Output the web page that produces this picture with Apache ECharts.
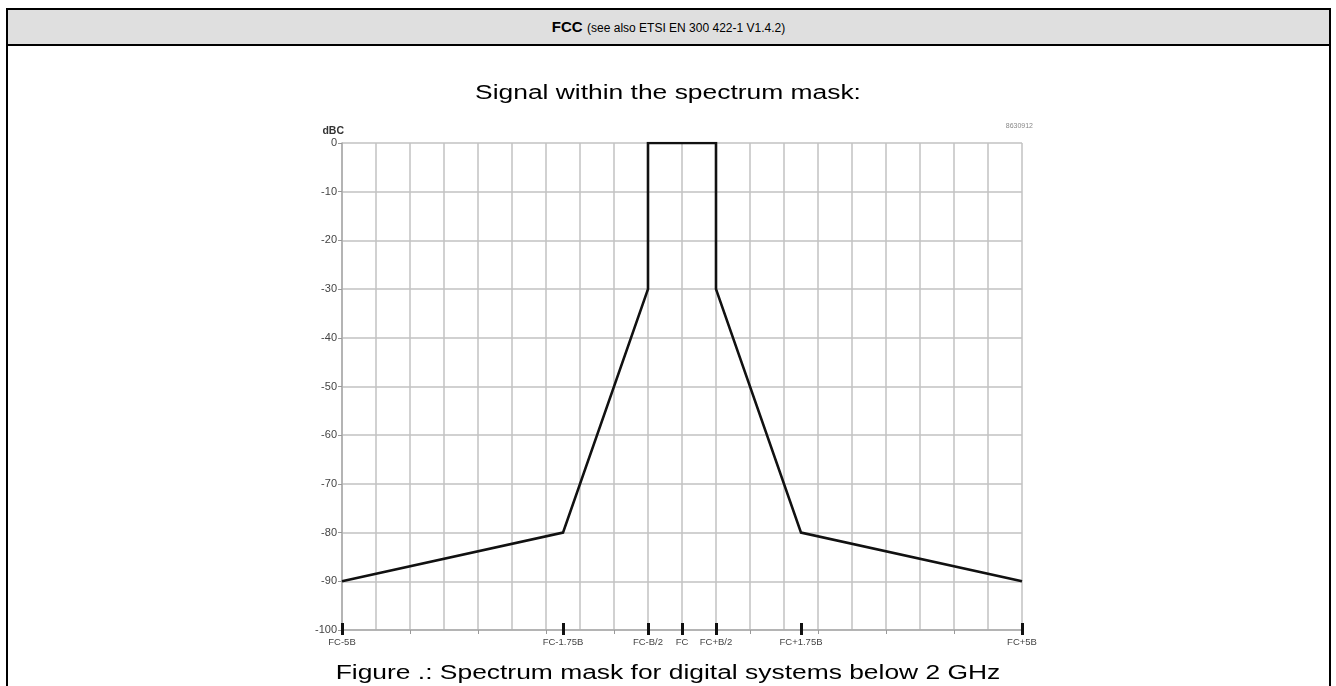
<!DOCTYPE html>
<html>
<head>
<meta charset="utf-8">
<title>FCC spectrum mask</title>
<script src="https://cdn.jsdelivr.net/npm/echarts@6.0.0/dist/echarts.min.js"></script>
<style>
  html, body { margin: 0; padding: 0; background: #fff; }
  body { width: 1336px; height: 686px; position: relative; overflow: hidden;
         font-family: "Liberation Sans", Arial, sans-serif; color: #000; }
  #chart { position: absolute; left: 0; top: 0; width: 1336px; height: 686px; }
  .frame-left, .frame-right { position: absolute; top: 8px; bottom: 0; width: 2px; background: #000; }
  .frame-left { left: 6px; }
  .frame-right { left: 1329px; }
  .header { position: absolute; left: 6px; top: 8px; width: 1321px; height: 34px;
            background: #dfdfdf; border: 2px solid #000;
            text-align: center; line-height: 34px; }
  .header b { font-size: 15px; }
  .header span { font-size: 12px; }
  .title, .caption { position: absolute; left: 668px; transform: translateX(-50%) scaleX(1.32);
                     white-space: nowrap; font-size: 20px; line-height: 23px; }
  .title { top: 81px; }
  .caption { top: 661px; }
</style>
</head>
<body>
<div id="chart"></div>
<div class="frame-left"></div>
<div class="frame-right"></div>
<div class="header"><b>FCC</b> <span>(see also ETSI EN 300 422-1 V1.4.2)</span></div>
<div class="title">Signal within the spectrum mask:</div>
<div class="caption">Figure .: Spectrum mask for digital systems below 2 GHz</div>
<script>
// Mask corner points: frequency offset from the carrier in units of B, level in dBc
const offsetsB = [-5, -1.75, -0.5, -0.5, 0.5, 0.5, 1.75, 5];
const levelsDbc = [-90, -80, -30, 0, 0, -30, -80, -90];

// Labelled positions on the frequency axis
const freqTickValues = [-5, -1.75, -0.5, 0, 0.5, 1.75, 5];
const freqTickLabels = ['FC-5B', 'FC-1.75B', 'FC-B/2', 'FC', 'FC+B/2', 'FC+1.75B', 'FC+5B'];

// Level axis
const levelMin = -100, levelMax = 0, levelStep = 10;

const gridColor = '#c2c2c2';
const labelFont = '"Liberation Sans", Arial, sans-serif';
const narrowFont = '"Liberation Sans Narrow", "Arial Narrow", "Liberation Sans", sans-serif';

const chart = echarts.init(document.getElementById('chart'), null, { renderer: 'canvas' });

const freqLabelOf = v => {
  const i = freqTickValues.findIndex(t => Math.abs(t - v) < 1e-9);
  return i >= 0 ? freqTickLabels[i] : '';
};

chart.setOption({
  animation: false,
  backgroundColor: '#fff',
  grid: { left: 342, right: 314, top: 143, bottom: 56, outerBoundsMode: 'none', containLabel: false },
  xAxis: [
    { // grid every half B
      type: 'value', min: -5, max: 5, interval: 0.5, position: 'bottom',
      axisLine: { show: true, onZero: false, lineStyle: { color: '#aaa', width: 1.5 } },
      axisTick: { show: false }, axisLabel: { show: false },
      splitLine: { show: true, lineStyle: { color: gridColor, width: 1.5 } }
    },
    { // small ticks every B
      type: 'value', min: -5, max: 5, interval: 1, position: 'bottom',
      axisLine: { show: false, onZero: false },
      axisTick: { show: true, length: 4, lineStyle: { color: '#999', width: 1 } },
      axisLabel: { show: false }, splitLine: { show: false }
    },
    { // labelled ticks, lower half
      type: 'value', min: -5, max: 5, position: 'bottom',
      axisLine: { show: false, onZero: false },
      axisTick: { show: true, length: 5, customValues: freqTickValues, lineStyle: { color: '#111', width: 3 } },
      axisLabel: { show: true, customValues: freqTickValues, formatter: freqLabelOf, margin: 7,
                   fontFamily: narrowFont, fontSize: 9.5, color: '#444' },
      splitLine: { show: false }
    },
    { // labelled ticks, upper half
      type: 'value', min: -5, max: 5, position: 'bottom',
      axisLine: { show: false, onZero: false },
      axisTick: { show: true, inside: true, length: 7, customValues: freqTickValues, lineStyle: { color: '#111', width: 3 } },
      axisLabel: { show: false }, splitLine: { show: false }
    }
  ],
  yAxis: {
    type: 'value', min: levelMin, max: levelMax, interval: levelStep,
    name: 'dBC', nameLocation: 'end', nameGap: 6,
    nameTextStyle: { fontFamily: labelFont, fontSize: 10.5, fontWeight: 'bold', color: '#333', align: 'right', padding: [0, -2, 0, 0] },
    axisLine: { show: true, onZero: false, lineStyle: { color: '#aaa', width: 1.5 } },
    axisTick: { show: true, length: 4, lineStyle: { color: '#999', width: 1 } },
    axisLabel: { margin: 5, fontFamily: labelFont, fontSize: 11, color: '#444' },
    splitLine: { show: true, lineStyle: { color: gridColor, width: 1.5 } }
  },
  graphic: [
    { type: 'text', right: 1336 - 1033, top: 123,
      style: { text: '8630912', fontSize: 7, fontFamily: labelFont, fill: '#888' } }
  ],
  series: [{
    type: 'line',
    xAxisIndex: 0,
    data: offsetsB.map((x, i) => [x, levelsDbc[i]]),
    symbol: 'none',
    lineStyle: { color: '#111', width: 2.6, join: 'miter' },
    z: 5
  }]
});
</script>
</body>
</html>
